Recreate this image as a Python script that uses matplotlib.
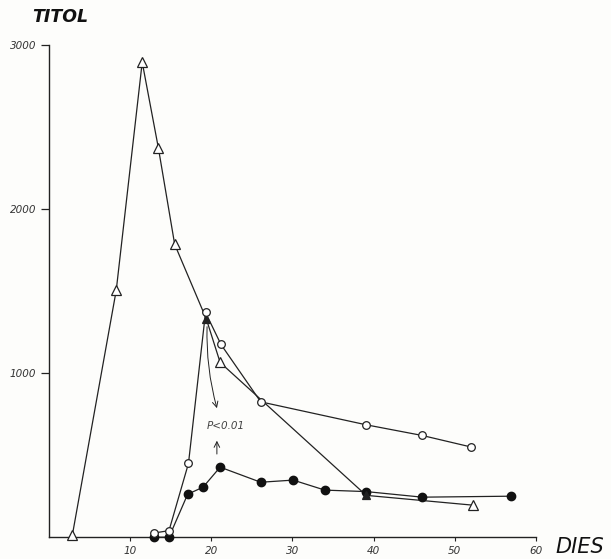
import matplotlib
matplotlib.use("Agg")
import matplotlib.pyplot as plt

# Triangle series (open triangles)
tri_x = [2.9, 8.3, 11.5, 13.5, 15.5, 19.4, 21.1, 39.1, 52.3]
tri_y = [15, 1505, 2895, 2370, 1785, 1330, 1065, 255, 195]
tri_filled = [False, False, False, False, False, True, False, True, False]

# Open circle series
oc_x = [12.9, 14.8, 17.2, 19.3, 21.2, 26.1, 39.1, 46.0, 52.0]
oc_y = [25, 40, 450, 1370, 1175, 825, 685, 620, 550]

# Filled circle series
fc_x = [12.9, 14.8, 17.1, 19.0, 21.1, 26.1, 30.1, 34.0, 39.1, 46.0, 57.0]
fc_y = [0, 0, 262, 305, 427, 335, 348, 287, 278, 244, 250]

xticks = [10, 20, 30, 40, 50, 60]
yticks = [1000, 2000, 3000]

fig = plt.figure(figsize=(6.11, 5.59), dpi=100, facecolor="#fdfdfb")
ax = fig.add_axes([0.080, 0.039, 0.797, 0.8805])
ax.set_facecolor("#fdfdfb")

lc = "#222222"
lw = 0.9

ax.plot(tri_x, tri_y, color=lc, lw=lw, zorder=2)
ax.plot(oc_x, oc_y, color=lc, lw=lw, zorder=2)
ax.plot(fc_x, fc_y, color=lc, lw=lw, zorder=2)

for x, y, f in zip(tri_x, tri_y, tri_filled):
    ax.plot([x], [y], marker="^", ms=7.5 if not f else 5.5,
            mfc=lc if f else "white", mec=lc, mew=0.9, zorder=4, clip_on=False)
ax.plot(oc_x, oc_y, ls="none", marker="o", ms=5.5, mfc="white", mec=lc, mew=0.9,
        zorder=5, clip_on=False)
ax.plot(fc_x, fc_y, ls="none", marker="o", ms=6, mfc="#111111", mec="#111111",
        zorder=3, clip_on=False)

ax.set_xlim(0, 60)
ax.set_ylim(0, 3000)
ax.spines["top"].set_visible(False)
ax.spines["right"].set_visible(False)
for s in ("left", "bottom"):
    ax.spines[s].set_linewidth(1.0)
    ax.spines[s].set_color(lc)

ax.set_xticks(xticks)
ax.set_yticks(yticks)
ax.set_xticklabels([str(t) for t in xticks], fontsize=7.5, style="italic", color="#333333")
ax.set_yticklabels([str(t) for t in yticks], fontsize=7.5, style="italic", color="#333333")
ax.tick_params(axis="x", direction="out", length=3, width=0.8, pad=3, colors=lc,
               labelcolor="#333333")
ax.tick_params(axis="y", direction="out", length=6, width=0.9, pad=3, colors=lc,
               labelcolor="#333333")

fig.text(0.053, 0.969, "TITOL", fontsize=12.5, fontweight="bold", style="italic",
         color="#111111", ha="left", va="center")
fig.text(0.909, 0.022, "DIES", fontsize=15, style="italic", color="#111111",
         ha="left", va="center")

# significance annotation
ax.annotate("", xy=(20.8, 770), xytext=(tri_x[5] + 0.1, tri_y[5] - 30),
            arrowprops=dict(arrowstyle="->", color=lc, lw=0.7,
                            connectionstyle="arc3,rad=0.08"))
ax.annotate("", xy=(20.7, 605), xytext=(20.7, 490),
            arrowprops=dict(arrowstyle="->", color=lc, lw=0.7))
ax.text(19.4, 680, "P<0.01", fontsize=7.5, style="italic", color="#444444",
        ha="left", va="center")

fig.savefig("out.png", dpi=100, facecolor=fig.get_facecolor())
